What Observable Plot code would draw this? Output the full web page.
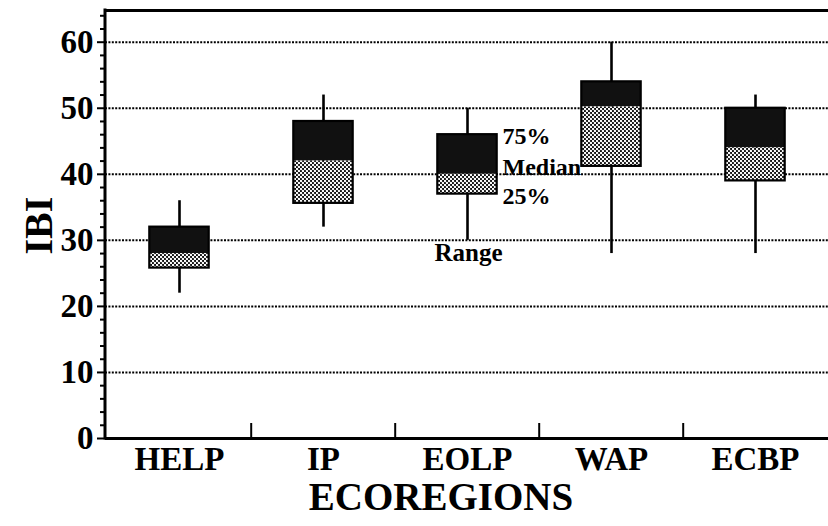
<!DOCTYPE html>
<html><head><meta charset="utf-8">
<script src="https://cdn.jsdelivr.net/npm/d3@7"></script>
<script src="https://cdn.jsdelivr.net/npm/@observablehq/plot@0.6"></script>
<style>
html,body{margin:0;padding:0;background:#fff;overflow:hidden}
svg{display:block}
</style></head><body><div id="chart"></div>
<script>
// ---- data ----
const regions   = ["HELP", "IP", "EOLP", "WAP", "ECBP"];
const rangeMin  = [22, 32, 30, 28, 28];
const q1        = [25.8, 35.6, 37, 41.2, 39];
const median    = [28, 42, 40, 50.2, 44];
const q3        = [32, 48, 46, 54, 50];
const rangeMax  = [36, 52, 50, 60, 52];
const yTicks      = [0, 10, 20, 30, 40, 50, 60];
const yMinorTicks = [2,4,6,8,12,14,16,18,22,24,26,28,32,34,36,38,42,44,46,48,52,54,56,58,62,64];
const yTop = 64.8;
const annotatedRegion = "EOLP";
const xTitle = "ECOREGIONS";
const yTitle = "IBI";

const rows = regions.map((r, i) => ({region: r, min: rangeMin[i], q1: q1[i], median: median[i], q3: q3[i], max: rangeMax[i]}));
const ann = rows.find(d => d.region === annotatedRegion);

const W = 828, H = 526, mL = 105, mR = 0, mT = 10, mB = 88;
const bandW = (W - mL - mR) / regions.length;
const boxW = 60;
const inset = (bandW - boxW) / 2;
const font = "Liberation Serif, Times New Roman, serif";

const chart = Plot.plot({
  width: W, height: H,
  marginLeft: mL, marginRight: mR, marginTop: mT, marginBottom: mB,
  style: {fontFamily: font, fontWeight: "bold", background: "white", color: "black"},
  x: {type: "band", domain: regions, padding: 0, axis: null},
  y: {domain: [0, yTop], label: null},
  marks: [
    // dotted gridlines
    Plot.ruleY(yTicks.filter(d => d > 0), {stroke: "black", strokeWidth: 2, strokeDasharray: "2,1.4"}),
    // whiskers
    Plot.ruleX(rows, {x: "region", y1: "min", y2: "max", stroke: "black", strokeWidth: 2.6}),
    // upper box (median -> q3)
    Plot.barY(rows, {x: "region", y1: "median", y2: "q3", fill: "#111", insetLeft: inset, insetRight: inset}),
    // lower box (q1 -> median), hatched
    Plot.barY(rows, {x: "region", y1: "q1", y2: "median", fill: "url(#hatch)", insetLeft: inset, insetRight: inset}),
    // box outline
    Plot.barY(rows, {x: "region", y1: "q1", y2: "q3", fill: "none", stroke: "black", strokeWidth: 2.2, insetLeft: inset, insetRight: inset}),
    // frame lines (bottom and top)
    Plot.ruleY([0], {stroke: "black", strokeWidth: 3}),
    Plot.ruleY([yTop], {stroke: "black", strokeWidth: 3}),
    // y axis ticks
    Plot.axisY({ticks: yTicks, tickSize: 8, tickFormat: () => "", label: null, strokeWidth: 2}),
    Plot.axisY({ticks: yMinorTicks, tickSize: 5, tickFormat: () => "", label: null, strokeWidth: 2}),
    // y tick labels
    Plot.text(yTicks, {y: d => d, text: d => String(d), frameAnchor: "left", textAnchor: "end", dx: -12, fontSize: 33, fontWeight: "bold"}),
    // x category boundary ticks
    Plot.ruleX(regions.slice(1), {x: d => d, dx: -bandW / 2, insetTop: (H - mT - mB) - 15, stroke: "black", strokeWidth: 2}),
    // x labels
    Plot.text(regions, {x: d => d, text: d => d, frameAnchor: "bottom", dy: 31, fontSize: 33, fontWeight: "bold"}),
    // axis titles
    Plot.text([xTitle], {frameAnchor: "bottom", text: d => d, dy: 71, dx: -26, fontSize: 39, fontWeight: "bold"}),
    Plot.text([yTitle], {frameAnchor: "left", text: d => d, rotate: -90, dx: -66, dy: 30, fontSize: 40, fontWeight: "bold"}),
    // legend-like annotations on EOLP
    Plot.text([ann], {x: "region", y: "q3", text: () => "75%", textAnchor: "start", dx: 35, dy: 2, fontSize: 24, fontWeight: "bold"}),
    Plot.text([ann], {x: "region", y: "median", text: () => "Median", textAnchor: "start", dx: 35, dy: -7, fontSize: 24, fontWeight: "bold"}),
    Plot.text([ann], {x: "region", y: "q1", text: () => "25%", textAnchor: "start", dx: 35, dy: 2, fontSize: 24, fontWeight: "bold"}),
    Plot.text([ann], {x: "region", y: "min", text: () => "Range", textAnchor: "start", dx: -33, dy: 13, fontSize: 25, fontWeight: "bold"})
  ]
});

// hatch pattern
const svgNS = "http://www.w3.org/2000/svg";
const defs = document.createElementNS(svgNS, "defs");
const pat = document.createElementNS(svgNS, "pattern");
pat.setAttribute("id", "hatch");
pat.setAttribute("width", "4");
pat.setAttribute("height", "4");
pat.setAttribute("patternUnits", "userSpaceOnUse");
const bg = document.createElementNS(svgNS, "rect");
bg.setAttribute("width", "4"); bg.setAttribute("height", "4"); bg.setAttribute("fill", "#111");
pat.appendChild(bg);
[[1, 1], [3, 3]].forEach(([cx, cy]) => {
  const c = document.createElementNS(svgNS, "circle");
  c.setAttribute("cx", cx); c.setAttribute("cy", cy); c.setAttribute("r", "1.2"); c.setAttribute("fill", "#fff");
  pat.appendChild(c);
});
defs.appendChild(pat);
chart.insertBefore(defs, chart.firstChild);

// left axis line from the scales
const xr = chart.scale("x").range, yr = chart.scale("y").range;
d3.select(chart).append("line")
  .attr("x1", xr[0]).attr("x2", xr[0])
  .attr("y1", yr[0] + 1.5).attr("y2", yr[1] - 1.5)
  .attr("stroke", "black").attr("stroke-width", 3);

document.getElementById("chart").appendChild(chart);
</script></body></html>
